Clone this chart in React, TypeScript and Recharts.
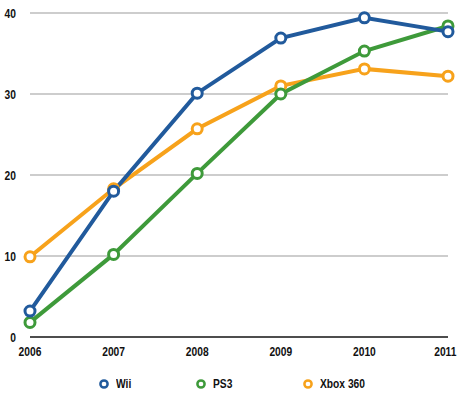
import { LineChart, Line, XAxis, YAxis, CartesianGrid, Legend } from "recharts";

const years = ["2006", "2007", "2008", "2009", "2010", "2011"];
const wii = [3.2, 18.0, 30.1, 36.9, 39.4, 37.7];
const ps3 = [1.8, 10.2, 20.2, 30.0, 35.3, 38.4];
const xbox = [9.9, 18.3, 25.7, 31.0, 33.1, 32.2];
const yTicks = [0, 10, 20, 30, 40];

const series = [
  { key: "wii", name: "Wii", color: "#215a9c", left: 98 },
  { key: "ps3", name: "PS3", color: "#3e9a3a", left: 195 },
  { key: "xbox", name: "Xbox 360", color: "#f7a21b", left: 302 },
];

const data = years.map((year, i) => ({
  year,
  wii: wii[i],
  ps3: ps3[i],
  xbox: xbox[i],
}));

const FONT = '"Liberation Sans", Arial, sans-serif';
const SQUEEZE = 0.82;

// narrow bold label, anchored at (x, y)
function Narrow({ x, y, anchor, children }: any) {
  return (
    <g transform={`translate(${x},${y}) scale(${SQUEEZE},1)`}>
      <text
        x={0}
        y={0}
        textAnchor={anchor}
        fontFamily={FONT}
        fontWeight="bold"
        fontSize={12.5}
        fill="#111"
      >
        {children}
      </text>
    </g>
  );
}

function YTick(props: any) {
  const { y, payload } = props;
  return (
    <Narrow x={16} y={y + 4.5} anchor="end">
      {payload.value}
    </Narrow>
  );
}

function XTick(props: any) {
  const { x, payload } = props;
  return (
    <Narrow x={x} y={355.5} anchor="middle">
      {payload.value}
    </Narrow>
  );
}

function LegendContent() {
  return (
    <div style={{ position: "relative", width: 461, height: 20 }}>
      {series.map((s) => (
        <div
          key={s.key}
          style={{
            position: "absolute",
            left: s.left,
            top: 0,
            height: 20,
            display: "flex",
            alignItems: "center",
            whiteSpace: "nowrap",
            fontFamily: FONT,
            fontWeight: "bold",
            fontSize: 12.5,
            color: "#111",
          }}
        >
          <svg width={12} height={12} style={{ marginRight: 6 }}>
            <circle cx={6} cy={6} r={3.6} fill="#fff" stroke={s.color} strokeWidth={2.5} />
          </svg>
          <span style={{ display: "inline-block", transform: `scaleX(${SQUEEZE})`, transformOrigin: "left center" }}>
            {s.name}
          </span>
        </div>
      ))}
    </div>
  );
}

export default function App() {
  return (
    <div style={{ position: "absolute", left: 0, top: 0, background: "#fff" }}>
      <LineChart
        width={461}
        height={398}
        data={data}
        margin={{ top: 13, right: 13, bottom: 4, left: 0 }}
      >
        <CartesianGrid vertical={false} stroke="#bdbdbd" strokeWidth={1.5} />
        <XAxis
          dataKey="year"
          axisLine={{ stroke: "#222", strokeWidth: 1.5 }}
          tickLine={false}
          height={37}
          tick={<XTick />}
        />
        <YAxis
          domain={[0, 40]}
          ticks={yTicks}
          width={30}
          axisLine={false}
          tickLine={false}
          tick={<YTick />}
        />
        <Legend verticalAlign="bottom" height={20} content={<LegendContent />} />
        {[...series].reverse().map((s) => (
          <Line
            key={s.key}
            type="linear"
            dataKey={s.key}
            name={s.name}
            stroke={s.color}
            strokeWidth={4}
            dot={{ r: 5, fill: "#fff", stroke: s.color, strokeWidth: 3 }}
            isAnimationActive={false}
          />
        ))}
      </LineChart>
    </div>
  );
}
